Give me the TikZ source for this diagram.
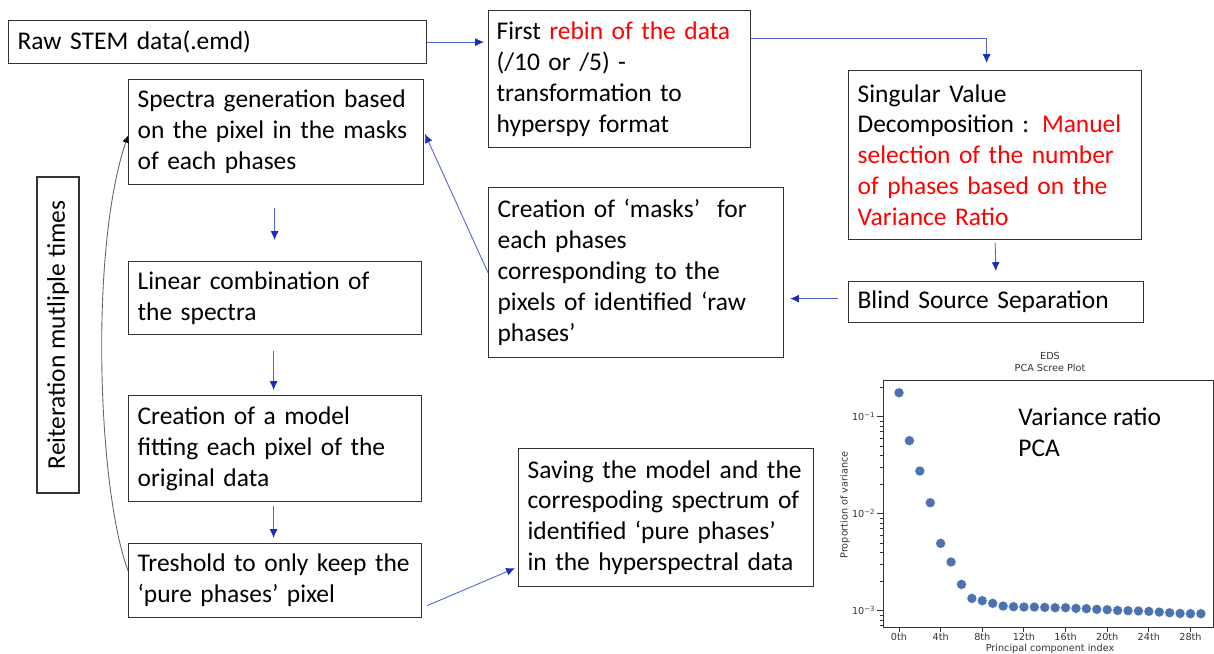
\documentclass[tikz,border=0pt]{standalone}
\usepackage{fontspec}
\setmainfont{Carlito}
\newfontfamily\plotfont{DejaVu Sans}
\usepackage{tikz}
\usetikzlibrary{arrows.meta}

\definecolor{flowblue}{RGB}{80,100,215}
\definecolor{tipblue}{RGB}{25,45,190}
\definecolor{dotblue}{HTML}{4C72B0}

\newcommand{\tenpow}[1]{10\raisebox{0.6ex}{\fontsize{4}{4}\selectfont −#1}}

\tikzset{
  procbox/.style={draw=black!80, line width=0.7pt, anchor=north west, align=left,
    inner xsep=0.18cm, font=\fontsize{14.5}{17.6}\selectfont},
  flow/.style={draw=flowblue, line width=0.5pt, -{Latex[length=5pt,width=4.5pt,color=tipblue]}},
  loopback/.style={draw=black!60, line width=0.5pt, -{Latex[length=4pt,width=4pt,color=black]}},
  plotlabel/.style={font=\plotfont\fontsize{5.5}{6.5}\selectfont, text=black!80, inner sep=0pt},
}

\begin{document}
\begin{tikzpicture}[x=0.02cm, y=-0.02cm]
    \useasboundingbox (0,0) rectangle (1214,653);

    % process boxes
    \node[procbox, text width=8cm, minimum height=0.86cm] (raw) at (8,20) {Raw STEM data(.emd)};
    \node[procbox, inner xsep=0.16cm, text width=4.92cm, minimum height=2.74cm] (rebin) at (488,10)
        {First \textcolor{red}{rebin of the data}\\(/10 or /5) -\\transformation to\\hyperspy format};
    \node[procbox, text width=5.5cm, minimum height=3.38cm] (svd) at (848,70)
        {Singular Value\\Decomposition : \textcolor{red}{Manuel}\\\textcolor{red}{selection of the number}\\\textcolor{red}{of phases based on the}\\\textcolor{red}{Variance Ratio}};
    \node[procbox, text width=5.54cm, minimum height=0.82cm] (blind) at (848,281) {Blind Source Separation};
    \node[procbox, text width=5.54cm, minimum height=3.4cm] (masks) at (488,187)
        {Creation of ‘masks’\ \ for\\each phases\\corresponding to the\\pixels of identified ‘raw\\phases’};
    \node[procbox, text width=5.54cm, minimum height=2.1cm] (spectra) at (128,79)
        {Spectra generation based\\on the pixel in the masks\\of each phases};
    \node[procbox, text width=5.5cm, minimum height=1.46cm] (linear) at (128,261)
        {Linear combination of\\the spectra};
    \node[procbox, text width=5.5cm, minimum height=2.12cm] (model) at (128,395)
        {Creation of a model\\fitting each pixel of the\\original data};
    \node[procbox, text width=5.5cm, minimum height=1.48cm] (thresh) at (128,543)
        {Treshold to only keep the\\‘pure phases’ pixel};
    \node[procbox, text width=5.54cm, minimum height=2.76cm] (saving) at (518,448)
        {Saving the model and the\\correspoding spectrum of\\identified ‘pure phases’\\in the hyperspectral data};
    \node[draw=black!80, line width=0.7pt, rotate=90, minimum width=6.32cm, minimum height=0.84cm,
        font=\fontsize{14.5}{17.6}\selectfont] (reiter) at (58,335) {Reiteration mutliple times};

    % connectors
    \draw[flow, shorten >=0.08cm] (raw.east) -- (raw.east -| rebin.west);
    \draw[flow, shorten >=0.14cm] ([yshift=-0.56cm]rebin.north east) -| ([xshift=-0.17cm]svd.north);
    \draw[flow, shorten <=0.06cm, shorten >=0.2cm] (svd.south) -- (blind.north);
    \draw[flow, shorten <=0.2cm, shorten >=0.12cm] ([yshift=0.07cm]blind.west) -- ([yshift=0.07cm]blind.west -| masks.east);
    \draw[flow, shorten >=0.04cm] (masks.west) -- (spectra.east);
    \draw[flow, shorten <=0.46cm, shorten >=0.42cm] ([xshift=-0.03cm]spectra.south) -- ([xshift=-0.03cm]spectra.south |- linear.north);
    \draw[flow, shorten <=0.32cm, shorten >=0.1cm] ([xshift=-0.03cm]linear.south) -- ([xshift=-0.03cm]model.north);
    \draw[flow, shorten <=0.08cm, shorten >=0.1cm] ([xshift=-0.03cm]model.south) -- ([xshift=-0.03cm]thresh.north);
    \draw[flow] ([xshift=0.1cm, yshift=-0.5cm]thresh.east) -- ([xshift=-0.06cm, yshift=0.38cm]saving.south west);
    \draw[loopback] ([yshift=0.2cm]thresh.west) .. controls +(-30,-80) and +(-39,115) .. ([yshift=-0.07cm]spectra.west);

    % scree plot
    \node[plotlabel] (ttl1) at (1050,356) {EDS};
    \node[plotlabel] (ttl2) at (1050,368) {PCA Scree Plot};
    \draw[black!80, line width=0.5pt] (883,380) rectangle (1213,627);
    \foreach \d/\lab in {0/1,1/2,2/3} {
        \draw[black!80, line width=0.5pt] (883,{416.7+97*\d}) -- (877,{416.7+97*\d});
        \node[plotlabel, anchor=east] (yt\lab) at (875,{416.7+97*\d}) {\tenpow{\lab}};
    }
    \foreach \d in {-1,0,1,2} {
        \foreach \k in {2,...,9} {
            \pgfmathsetmacro{\ym}{416.7+97*(\d+1)-97*log10(\k)}
            \ifdim\ym pt>381pt \ifdim\ym pt<626pt
                \draw[black!80, line width=0.4pt] (883,\ym) -- (879.5,\ym);
            \fi\fi
        }
    }
    \foreach \i in {0,4,...,28} {
        \draw[black!80, line width=0.5pt] ({899+10.41*\i},627) -- ({899+10.41*\i},632);
        \node[plotlabel] (xt\i) at ({899+10.41*\i},637) {\i th};
    }
    \node[plotlabel, rotate=90] (ylab) at (845,505) {Proportion of variance};
    \node[plotlabel] (xlab) at (1050,649) {Principal component index};
    \foreach \i/\L in {0/-0.753,1/-1.247,2/-1.560,3/-1.887,4/-2.306,5/-2.498,6/-2.729,7/-2.873,
        8/-2.897,9/-2.924,10/-2.952,11/-2.959,12/-2.962,13/-2.962,14/-2.966,15/-2.969,16/-2.969,
        17/-2.976,18/-2.979,19/-2.986,20/-2.990,21/-2.997,22/-3.000,23/-3.003,24/-3.007,
        25/-3.014,26/-3.021,27/-3.028,28/-3.031,29/-3.031}
        \filldraw[fill=dotblue, draw=white, line width=0.2pt] ({899+10.41*\i},{416.7-97*(\L+1)}) circle (0.1cm);
    \node[anchor=west, align=left, inner sep=0pt, font=\fontsize{14.5}{17.6}\selectfont] (varnote) at (1018,432)
        {Variance ratio\\PCA};
\end{tikzpicture}
\end{document}
